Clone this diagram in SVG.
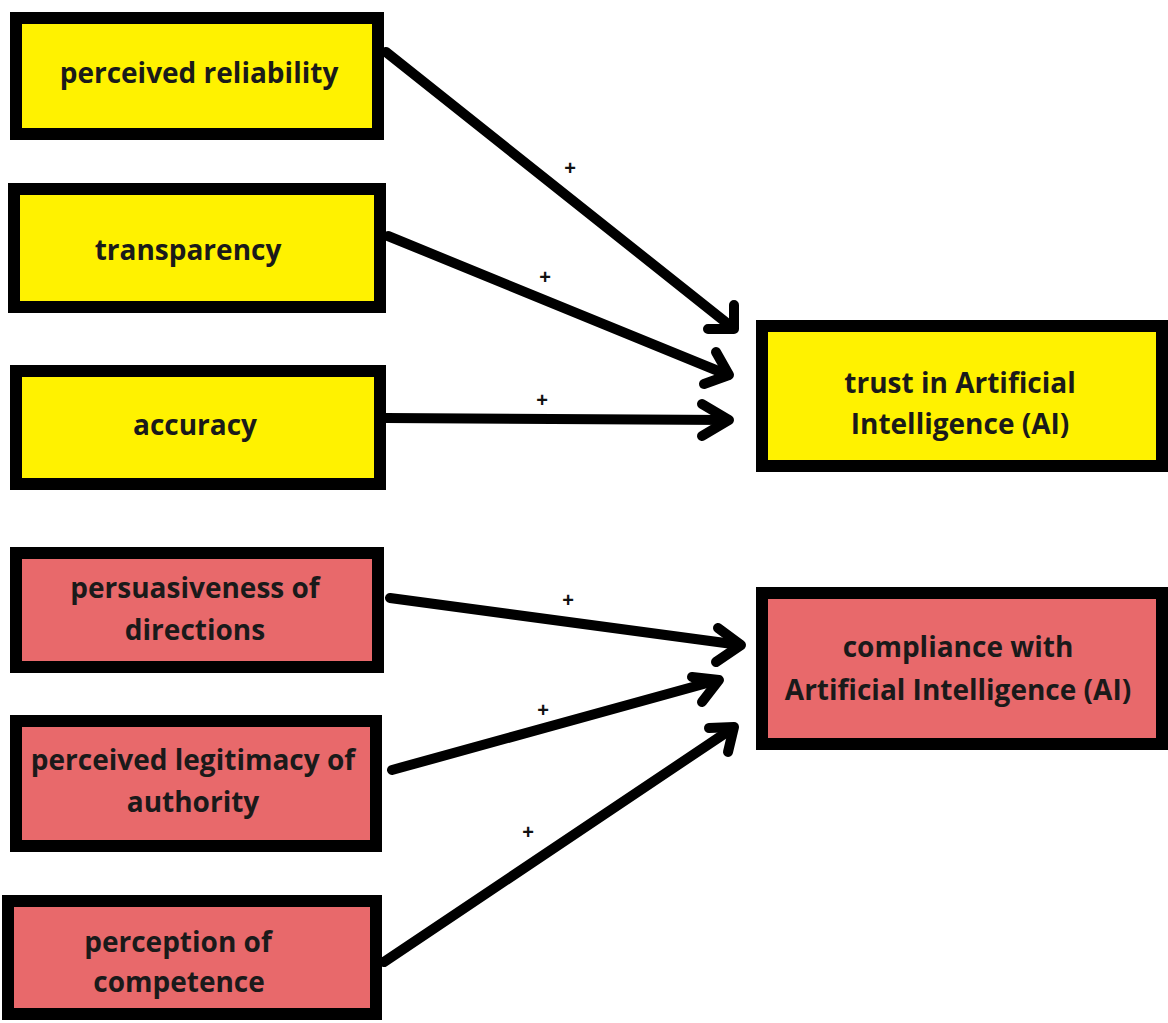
<svg xmlns="http://www.w3.org/2000/svg" width="1168" height="1023" viewBox="0 0 1168 1023">
<style>
.box{stroke:#000;stroke-width:12}
.y{fill:#fff200}
.r{fill:#e8696b}
.t{font-family:"Open Sans","Liberation Sans",sans-serif;font-weight:700;font-size:28px;fill:#1a1a1a;text-anchor:middle}
.c{stroke:#000;stroke-width:10;fill:none;stroke-linecap:round;stroke-linejoin:round}
.p{font-family:"Liberation Sans",sans-serif;font-weight:700;font-size:20px;fill:#111;text-anchor:middle}
</style>
<rect width="1168" height="1023" fill="#fff"/>
<g id="connectors">
<path class="c" d="M386 52 L733 328"/><path class="c" d="M734 305 L734 329 L708 329"/>
<path class="c" d="M388 236 L728 375"/><path class="c" d="M716 352 L729 375 L704 384"/>
<path class="c" d="M386 418 L728 420"/><path class="c" d="M702 404 L729 420 L702 436"/>
<path class="c" d="M390 598 L740 645"/><path class="c" d="M718 628 L741 645 L716 662"/>
<path class="c" d="M392 770 L718 680"/><path class="c" d="M692 677 L719 680 L702 702"/>
<path class="c" d="M384 962 L733 728"/><path class="c" d="M709 728 L734 727 L728 752"/>
<text class="p" x="570" y="175">+</text>
<text class="p" x="545" y="284">+</text>
<text class="p" x="542" y="407">+</text>
<text class="p" x="568" y="607">+</text>
<text class="p" x="543" y="717">+</text>
<text class="p" x="528" y="839">+</text>
</g>
<g id="n1"><rect class="box y" x="16" y="18" width="362" height="116"/><text class="t" x="199" y="83">perceived reliability</text></g>
<g id="n2"><rect class="box y" x="14" y="189" width="366" height="118"/><text class="t" x="188" y="260">transparency</text></g>
<g id="n3"><rect class="box y" x="16" y="371" width="364" height="113"/><text class="t" x="195" y="435">accuracy</text></g>
<g id="n4"><rect class="box r" x="16" y="553" width="362" height="114"/><text class="t" x="195" y="598">persuasiveness of</text><text class="t" x="195" y="640">directions</text></g>
<g id="n5"><rect class="box r" x="16" y="721" width="360" height="125"/><text class="t" x="193" y="770">perceived legitimacy of</text><text class="t" x="193" y="812">authority</text></g>
<g id="n6"><rect class="box r" x="8" y="901" width="368" height="113"/><text class="t" x="178" y="952">perception of</text><text class="t" x="179" y="992">competence</text></g>
<g id="n7"><rect class="box y" x="762" y="326" width="400" height="140"/><text class="t" x="960" y="393">trust in Artificial</text><text class="t" x="960" y="434">Intelligence (AI)</text></g>
<g id="n8"><rect class="box r" x="762" y="593" width="400" height="151"/><text class="t" x="958" y="657">compliance with</text><text class="t" x="958" y="700">Artificial Intelligence (AI)</text></g>
</svg>
